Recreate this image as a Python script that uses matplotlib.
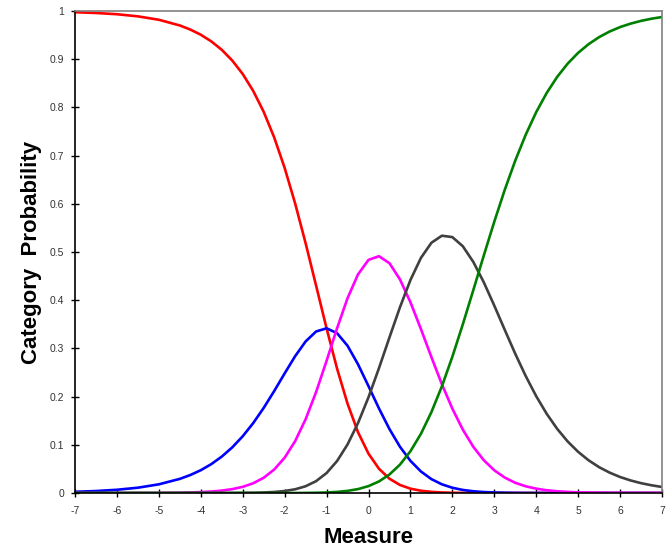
import matplotlib
matplotlib.use("Agg")
import matplotlib.pyplot as plt

plt.rcParams['font.family'] = ['Liberation Sans', 'DejaVu Sans']

# measure values (x) and category probabilities
measure = [-7, -6.5, -6, -5.5, -5, -4.5, -4.25, -4, -3.75, -3.5, -3.25, -3,
           -2.75, -2.5, -2.25, -2, -1.75, -1.5, -1.25, -1, -0.75, -0.5, -0.25,
           0, 0.25, 0.5, 0.75, 1, 1.25, 1.5, 1.75, 2, 2.25, 2.5, 2.75, 3, 3.25,
           3.5, 3.75, 4, 4.25, 4.5, 4.75, 5, 5.25, 5.5, 5.75, 6, 6.25, 6.5, 6.75, 7]

cat1 = [0.9975, 0.9959, 0.9933, 0.9889, 0.9818, 0.9700, 0.9615, 0.9508, 0.9370, 0.9195, 0.8973, 0.8693,
        0.8343, 0.7909, 0.7379, 0.6745, 0.6008, 0.5183, 0.4303, 0.3417, 0.2582, 0.1853, 0.1261,
        0.0816, 0.0503, 0.0296, 0.0167, 0.0090, 0.0047, 0.0024, 0.0011, 0.0005, 0.0002, 0.0001, 0, 0, 0,
        0, 0, 0, 0, 0, 0, 0, 0, 0, 0, 0, 0, 0, 0, 0]
cat2 = [0.0025, 0.0041, 0.0067, 0.0110, 0.0180, 0.0293, 0.0373, 0.0473, 0.0599, 0.0755, 0.0946, 0.1177,
        0.1450, 0.1765, 0.2114, 0.2481, 0.2838, 0.3144, 0.3351, 0.3417, 0.3316, 0.3055, 0.2670,
        0.2217, 0.1754, 0.1326, 0.0960, 0.0667, 0.0447, 0.0288, 0.0180, 0.0109, 0.0063, 0.0036, 0.0020, 0.0011, 0.0006,
        0.0003, 0.0001, 0.0001, 0, 0, 0, 0, 0, 0, 0, 0, 0, 0, 0, 0]
cat3 = [0, 0, 0, 0.0001, 0.0003, 0.0007, 0.0012, 0.0019, 0.0031, 0.0050, 0.0080, 0.0128,
        0.0202, 0.0316, 0.0486, 0.0733, 0.1076, 0.1530, 0.2094, 0.2742, 0.3417, 0.4042, 0.4536,
        0.4837, 0.4913, 0.4767, 0.4432, 0.3958, 0.3402, 0.2820, 0.2257, 0.1750, 0.1314, 0.0958, 0.0680, 0.0471, 0.0320,
        0.0212, 0.0139, 0.0090, 0.0057, 0.0036, 0.0023, 0.0014, 0.0009, 0.0005, 0.0003, 0.0002, 0.0001, 0.0001, 0, 0]
cat4 = [0, 0, 0, 0, 0, 0, 0, 0, 0, 0.0001, 0.0001, 0.0003,
        0.0005, 0.0011, 0.0021, 0.0041, 0.0077, 0.0140, 0.0246, 0.0414, 0.0663, 0.1007, 0.1451,
        0.1986, 0.2591, 0.3228, 0.3853, 0.4418, 0.4877, 0.5191, 0.5338, 0.5309, 0.5119, 0.4794, 0.4371, 0.3888, 0.3384,
        0.2889, 0.2426, 0.2008, 0.1643, 0.1331, 0.1069, 0.0854, 0.0678, 0.0536, 0.0423, 0.0332, 0.0261, 0.0204, 0.0160, 0.0125]
cat5 = [0, 0, 0, 0, 0, 0, 0, 0, 0, 0, 0, 0,
        0, 0, 0, 0, 0, 0.0002, 0.0005, 0.0011, 0.0023, 0.0044, 0.0081,
        0.0143, 0.0240, 0.0384, 0.0588, 0.0866, 0.1227, 0.1677, 0.2213, 0.2827, 0.3501, 0.4210, 0.4928, 0.5629, 0.6291,
        0.6896, 0.7434, 0.7902, 0.8300, 0.8633, 0.8908, 0.9132, 0.9313, 0.9458, 0.9574, 0.9666, 0.9738, 0.9795, 0.9840, 0.9875]

x_ticks = list(range(-7, 8))
y_ticks = [0, 0.1, 0.2, 0.3, 0.4, 0.5, 0.6, 0.7, 0.8, 0.9, 1]
y_labels = ['0', '0.1', '0.2', '0.3', '0.4', '0.5', '0.6', '0.7', '0.8', '0.9', '1']

fig = plt.figure(figsize=(6.68, 5.53), dpi=100)
ax = fig.add_axes([75/668, 1 - 493/553, 587/668, 482/553])

lw = 1.9
ax.plot(measure, cat1, color='#ff0000', lw=lw)
ax.plot(measure, cat2, color='#0000ff', lw=lw)
ax.plot(measure, cat3, color='#ff00ff', lw=lw)
ax.plot(measure, cat4, color='#404040', lw=lw)
ax.plot(measure, cat5, color='#008000', lw=lw)

ax.set_xlim(-7, 7)
ax.set_ylim(0, 1)
ax.set_xticks(x_ticks)
ax.set_xticklabels([str(t) for t in x_ticks])
ax.set_yticks(y_ticks)
ax.set_yticklabels(y_labels)

ax.tick_params(direction='inout', length=6, width=1, labelsize=7.5,
               labelcolor='#333333', color='black')
ax.tick_params(axis='x', pad=6)
ax.tick_params(axis='y', pad=5)

for side in ['left', 'bottom']:
    ax.spines[side].set_color('black')
    ax.spines[side].set_linewidth(1.2)
for side in ['top', 'right']:
    ax.spines[side].set_color('#808080')
    ax.spines[side].set_linewidth(1.2)

ax.set_xlabel('Measure', fontsize=16, fontweight='bold')
ax.set_ylabel('Category  Probability', fontsize=16, fontweight='bold')
ax.xaxis.set_label_coords(0.5, -0.0705)
ax.yaxis.set_label_coords(-0.0566, 0.5)

fig.savefig('out.png', dpi=100)
